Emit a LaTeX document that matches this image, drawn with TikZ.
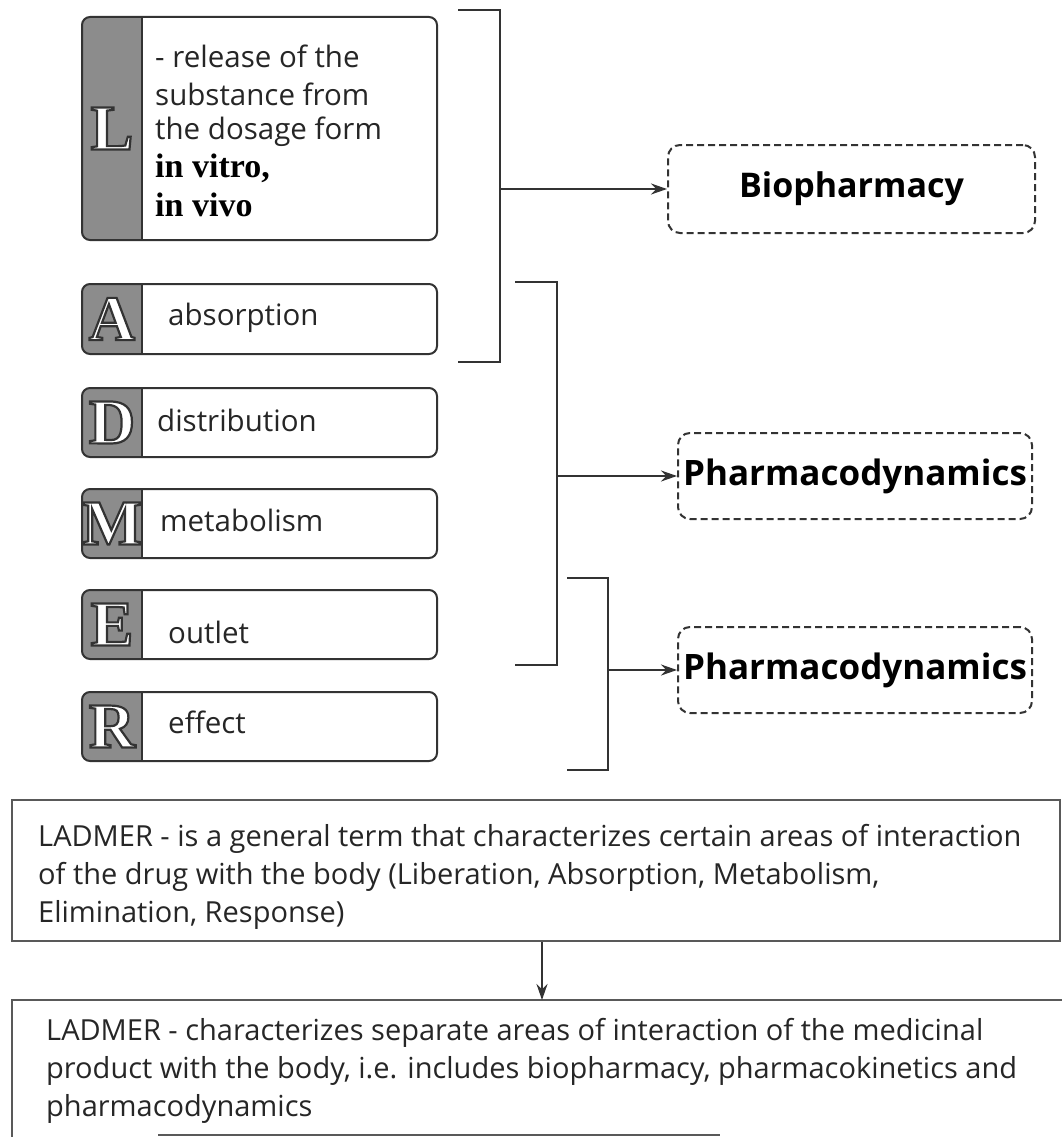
\documentclass[tikz,border=0pt]{standalone}
\usepackage{fontspec}
\setmainfont{Open Sans}
\newfontfamily\serifb{Liberation Serif}
\usetikzlibrary{arrows.meta,fit}
\definecolor{stripgray}{HTML}{8C8C8C}
\definecolor{ink}{HTML}{333333}
\newcommand\outlined[1]{{\color{white}\special{pdf:literal direct q 2 Tr 2.2 w 0.2 G}#1\special{pdf:literal direct Q}}}
\tikzset{
  lbox/.style={draw=ink, rounded corners=8pt, line width=2pt, inner sep=0pt},
  dbox/.style={draw=ink, dash pattern=on 7pt off 4pt, rounded corners=12pt, line width=2pt, inner sep=0pt},
  lbl/.style={anchor=west, inner sep=0pt, font=\fontsize{29.5}{34}\selectfont, text=black!85},
  blbl/.style={anchor=west, inner sep=0pt, font=\serifb\bfseries\fontsize{34}{36}\selectfont, text=black},
  letterstyle/.style={inner sep=0pt, font=\serifb\bfseries\fontsize{64}{64}\selectfont},
  conn/.style={draw=ink, line width=2pt},
  arr/.style={conn, -{Stealth[length=16pt,width=11pt]}},
  btxt/.style={anchor=base west, inner sep=0pt, font=\fontsize{29}{38}\selectfont, text=black!85},
  ttl/.style={font=\fontsize{35}{40}\selectfont\bfseries, inner sep=0pt}
}
\newcommand\ladbox[4]{%
  \begin{scope}
    \clip[rounded corners=8pt] (82,#2) rectangle (437,#3);
    \fill[stripgray] (82,#2) rectangle (142,#3);
  \end{scope}
  \draw[conn] (142,#2) -- (142,#3);
  \node[lbox, fit={(82,#2) (437,#3)}] (#1) {};
  \node[letterstyle] (#1let) at (112,{(#2+#3)/2}) {\outlined{#4}};
}
\begin{document}
\begin{tikzpicture}[x=1pt,y=-1pt]
\path[use as bounding box, fill=white] (0,0) rectangle (1062,1137);

% left boxes
\ladbox{boxL}{17}{240}{L}
\ladbox{boxA}{284}{354}{A}
\ladbox{boxD}{388}{457}{D}
\ladbox{boxM}{489}{558}{M}
\ladbox{boxE}{590}{659}{E}
\ladbox{boxR}{692}{761}{R}

\node[lbl] (tL1) at (155,56) {- release of the};
\node[lbl] (tL2) at (155,94) {substance from};
\node[lbl] (tL3) at (155,132) {the dosage form};
\node[blbl] (tL4) at (155,168) {in vitro,};
\node[blbl] (tL5) at (155,205) {in vivo};
\node[lbl] (tA) at (168,318) {absorption};
\node[lbl] (tD) at (157,420) {distribution};
\node[lbl] (tM) at (160,520) {metabolism};
\node[lbl] (tE) at (168,632) {outlet};
\node[lbl] (tR) at (168,722) {effect};

% target boxes
\node[dbox, fit={(668,145) (1035,233)}] (bio) {};
\node[ttl, font=\fontsize{34}{40}\selectfont\bfseries] at (bio.center) (bioT) {Biopharmacy};
\node[dbox, fit={(678,433) (1032,519)}] (ph1) {};
\node[ttl] at (ph1.center) (ph1T) {Pharmacodynamics};
\node[dbox, fit={(678,627) (1032,713)}] (ph2) {};
\node[ttl] at (ph2.center) (ph2T) {Pharmacodynamics};

% brackets
\coordinate (b1a) at (458,10);
\coordinate (b1b) at (500,10);
\coordinate (b1c) at (500,362);
\coordinate (b1d) at (458,362);
\coordinate (b1m) at (500,189);
\draw[conn] (b1a) -- (b1b) -- (b1c) -- (b1d);
\draw[arr] (b1m) -- (bio.west);

\coordinate (b2a) at (515,282);
\coordinate (b2b) at (557,282);
\coordinate (b2c) at (557,665);
\coordinate (b2d) at (515,665);
\coordinate (b2m) at (557,476);
\draw[conn] (b2a) -- (b2b) -- (b2c) -- (b2d);
\draw[arr] (b2m) -- (ph1.west);

\coordinate (b3a) at (567,578);
\coordinate (b3b) at (608,578);
\coordinate (b3c) at (608,770);
\coordinate (b3d) at (567,770);
\coordinate (b3m) at (608,670);
\draw[conn] (b3a) -- (b3b) -- (b3c) -- (b3d);
\draw[arr] (b3m) -- (ph2.west);

% bottom boxes
\node[draw=black!65, line width=2pt, inner sep=0pt, fit={(12,800) (1060,941)}] (def1) {};
\node[btxt] (d1a) at (38,846) {LADMER - is a general term that characterizes certain areas of interaction};
\node[btxt] (d1b) at (38,884) {of the drug with the body (Liberation, Absorption, Metabolism,};
\node[btxt] (d1c) at (38,922) {Elimination, Response)};

\coordinate (d2tl) at (12,1000);
\coordinate (d2tr) at (1062,1000);
\coordinate (d2bl) at (12,1137);
\coordinate (d2ba) at (158,1135);
\coordinate (d2bb) at (720,1135);
\draw[draw=black!65, line width=2pt] (d2bl) -- (d2tl) -- (d2tr);
\draw[draw=black!65, line width=2pt] (d2ba) -- (d2bb);
\node[btxt] (d2a) at (46,1040) {LADMER - characterizes separate areas of interaction of the medicinal};
\node[btxt] (d2b) at (46,1078) {product with the body, i.e. includes biopharmacy, pharmacokinetics and};
\node[btxt] (d2c) at (46,1116) {pharmacodynamics};
\coordinate (d2top) at (542,1000);
\draw[arr] (def1.south -| d2top) -- (d2top);
\end{tikzpicture}
\end{document}
